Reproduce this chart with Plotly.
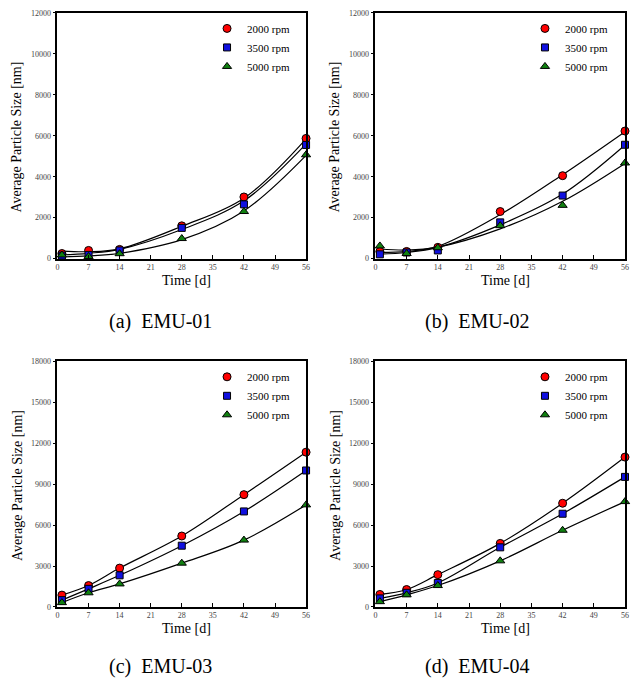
import plotly.graph_objects as go

# ---------------- data ----------------
days = [1, 7, 14, 28, 42, 56]
x_ticks = [0, 7, 14, 21, 28, 35, 42, 49, 56]
y_ticks_top = [0, 2000, 4000, 6000, 8000, 10000, 12000]
y_ticks_bottom = [0, 3000, 6000, 9000, 12000, 15000, 18000]
series_names = ["2000 rpm", "3500 rpm", "5000 rpm"]
panel_titles = ["(a)\u00a0\u00a0EMU-01", "(b)\u00a0\u00a0EMU-02", "(c)\u00a0\u00a0EMU-03", "(d)\u00a0\u00a0EMU-04"]

# measured points
emu01_2000 = [250, 400, 450, 1600, 3010, 5870]
emu01_3500 = [150, 180, 400, 1500, 2650, 5550]
emu01_5000 = [180, 100, 240, 980, 2300, 5070]

emu02_2000 = [350, 350, 550, 2300, 4050, 6230]
emu02_3500 = [210, 300, 400, 1770, 3080, 5560]
emu02_5000 = [620, 250, 530, 1610, 2600, 4670]

emu03_2000 = [870, 1570, 2850, 5200, 8230, 11340]
emu03_3500 = [500, 1330, 2320, 4490, 7000, 10000]
emu03_5000 = [320, 1040, 1690, 3210, 4900, 7480]

emu04_2000 = [920, 1280, 2370, 4660, 7600, 10980]
emu04_3500 = [630, 1040, 1760, 4370, 6830, 9530]
emu04_5000 = [390, 890, 1570, 3380, 5620, 7720]

# regression curves
emu01_2000_fit = [370, 340, 480, 1580, 2950, 5850]
emu01_3500_fit = [180, 260, 450, 1420, 2820, 5600]
emu01_5000_fit = [80, 130, 260, 930, 2330, 5040]

emu02_2000_fit = [300, 350, 600, 2150, 4100, 6200]
emu02_3500_fit = [220, 300, 550, 1650, 3150, 5550]
emu02_5000_fit = [470, 420, 560, 1450, 2800, 4650]

emu03_2000_fit = emu03_2000
emu03_3500_fit = emu03_3500
emu03_5000_fit = emu03_5000

emu04_2000_fit = emu04_2000
emu04_3500_fit = emu04_3500
emu04_5000_fit = emu04_5000

panels = [
    ([emu01_2000, emu01_3500, emu01_5000], [emu01_2000_fit, emu01_3500_fit, emu01_5000_fit]),
    ([emu02_2000, emu02_3500, emu02_5000], [emu02_2000_fit, emu02_3500_fit, emu02_5000_fit]),
    ([emu03_2000, emu03_3500, emu03_5000], [emu03_2000_fit, emu03_3500_fit, emu03_5000_fit]),
    ([emu04_2000, emu04_3500, emu04_5000], [emu04_2000_fit, emu04_3500_fit, emu04_5000_fit]),
]

# ---------------- style ----------------
W, H = 631, 687
FONT = "Liberation Serif"
colors = ["#ff0000", "#1010e0", "#108010"]
symbols = ["circle", "square", "triangle-up"]
sizes = [8, 7, 8]

# pixel boxes (left, right, top, bottom)
boxes = [(56, 307, 9, 258), (377, 629, 9, 258), (56, 307, 362, 611), (377, 629, 362, 611)]

def px(x):
    return x / W

def py(y):
    return 1 - y / H

fig = go.Figure()
layout = dict(
    width=W, height=H,
    margin=dict(l=0, r=0, t=0, b=0),
    paper_bgcolor="white", plot_bgcolor="white",
    font=dict(family=FONT, color="black"),
    showlegend=True,
    annotations=[],
)

for i, (pts, fits) in enumerate(panels):
    n = "" if i == 0 else str(i + 1)
    xa, ya = "x" + n, "y" + n
    leg = "legend" + n
    for j in range(3):
        fig.add_trace(go.Scatter(
            x=days, y=fits[j], mode="lines",
            line=dict(color="black", width=1.2, shape="spline", smoothing=1.0),
            xaxis=xa, yaxis=ya, showlegend=False, hoverinfo="skip",
        ))
    for j in range(3):
        fig.add_trace(go.Scatter(
            x=days, y=pts[j], mode="markers", name=series_names[j],
            marker=dict(symbol=symbols[j], color=colors[j], size=sizes[j],
                        line=dict(color="black", width=1)),
            xaxis=xa, yaxis=ya, legend=leg, cliponaxis=False,
        ))

    l, r, t, b = boxes[i]
    yt = y_ticks_top if i < 2 else y_ticks_bottom
    ymax = yt[-1]
    layout["xaxis" + n] = dict(
        domain=[px(l), px(r)], anchor=ya, range=[0, 56],
        tickvals=x_ticks, ticktext=[str(v) for v in x_ticks],
        ticks="inside", ticklen=4, tickwidth=1, tickcolor="black",
        showline=True, linecolor="black", linewidth=1.5, mirror=True,
        showgrid=False, zeroline=False,
        tickfont=dict(size=8, color="#444", family=FONT),
    )
    layout["yaxis" + n] = dict(
        domain=[py(b), py(t)], anchor=xa, range=[0, ymax],
        tickvals=yt, ticktext=[str(v) for v in yt],
        ticks="outside", ticklen=3, tickwidth=1, tickcolor="black",
        showline=True, linecolor="black", linewidth=1.5, mirror=True,
        showgrid=False, zeroline=False,
        tickfont=dict(size=8, color="#444", family=FONT),
    )
    layout[leg] = dict(
        x=px(l + 151), y=py(t + 35), xanchor="left", yanchor="middle",
        bgcolor="rgba(0,0,0,0)", borderwidth=0,
        font=dict(size=11, family=FONT, color="black"),
        tracegroupgap=0,
    )
    cx = (l + r) / 2
    cy = (t + b) / 2
    layout["annotations"] += [
        dict(text="Average Particle Size [nm]", x=px(l - 41), y=py(cy + 1),
             xref="paper", yref="paper", showarrow=False, textangle=-90,
             font=dict(size=14, family=FONT, color="black"),
             xanchor="center", yanchor="middle"),
        dict(text="Time [d]", x=px(cx + 5), y=py(b + 22),
             xref="paper", yref="paper", showarrow=False,
             font=dict(size=14, family=FONT, color="black"),
             xanchor="center", yanchor="middle"),
        dict(text=panel_titles[i], x=px(cx - 21 if i % 2 == 0 else cx - 23),
             y=py(b + 64 if i < 2 else b + 60),
             xref="paper", yref="paper", showarrow=False,
             font=dict(size=20, family=FONT, color="black"),
             xanchor="center", yanchor="middle"),
    ]

fig.update_layout(**layout)
fig.write_html("out.html", config={"displayModeBar": False},
               post_script="document.body.style.margin='0';document.body.style.overflow='hidden';")
